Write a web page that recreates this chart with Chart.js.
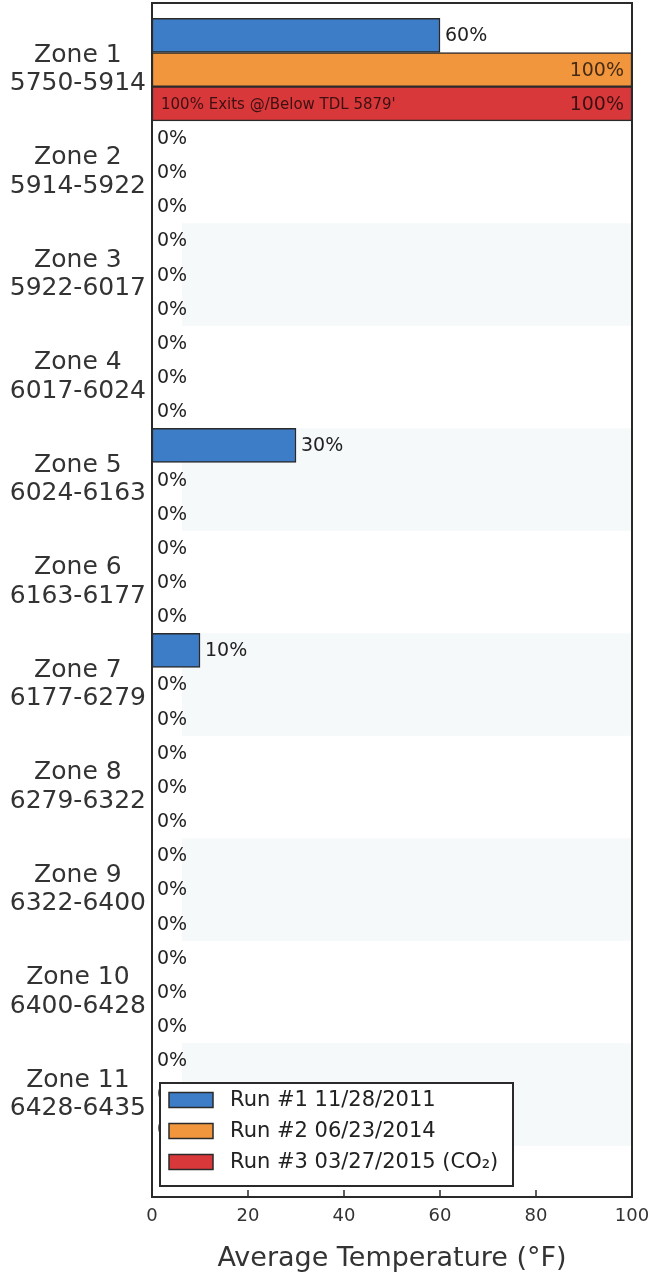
<!DOCTYPE html>
<html><head><meta charset="utf-8">
<script src="https://cdn.jsdelivr.net/npm/chart.js@4/dist/chart.umd.min.js"></script>
<style>html,body{margin:0;padding:0;background:#fff}#c{display:block}</style>
</head><body>
<canvas id="c" width="670" height="1272"></canvas>
<script>
const zoneNames = ['Zone 1','Zone 2','Zone 3','Zone 4','Zone 5','Zone 6','Zone 7','Zone 8','Zone 9','Zone 10','Zone 11'];
const zoneDepths = ['5750-5914','5914-5922','5922-6017','6017-6024','6024-6163','6163-6177','6177-6279','6279-6322','6322-6400','6400-6428','6428-6435'];
const run1 = [60,0,0,0,30,0,10,0,0,0,0];
const run2 = [100,0,0,0,0,0,0,0,0,0,0];
const run3 = [100,0,0,0,0,0,0,0,0,0,0];
const seriesLabels = ['Run #1 11/28/2011','Run #2 06/23/2014','Run #3 03/27/2015 (CO\u2082)'];
const seriesColors = ['#3d7cc7','#f1963d','#d9383b'];
const xTickValues = [0,20,40,60,80,100];
const xTitle = 'Average Temperature (\u00b0F)';
const noteText = "100% Exits @/Below TDL 5879'";
const noteSeries = 2, noteZone = 0;

const FONT = "'DejaVu Sans', sans-serif";
const INK = '#2a2a2a';

const toPoints = arr => arr.map((v, i) => ({x: v, y: i}));

const bandsPlugin = {
  id: 'bands',
  beforeDatasetsDraw(chart) {
    const {ctx, chartArea: a, scales: {y}} = chart;
    ctx.save();
    ctx.fillStyle = '#f5f9fa';
    for (let i = 2; i < zoneNames.length; i += 2) {
      const t = y.getPixelForValue(i - 0.5), b = y.getPixelForValue(i + 0.5);
      ctx.fillRect(a.left + 30, Math.min(t, b), a.right - a.left - 30, Math.abs(b - t));
    }
    ctx.restore();
  }
};

const labelsPlugin = {
  id: 'barLabels',
  afterDatasetsDraw(chart) {
    const {ctx} = chart;
    ctx.save();
    ctx.textBaseline = 'middle';
    chart.data.datasets.forEach((ds, di) => {
      const meta = chart.getDatasetMeta(di);
      meta.data.forEach((el, i) => {
        const v = ds.data[i].x;
        const p = el.getProps(['x', 'y', 'base'], true);
        ctx.font = '19px ' + FONT;
        if (v >= 100) {
          ctx.fillStyle = 'rgba(0,0,0,0.72)';
          ctx.textAlign = 'right';
          ctx.fillText(v + '%', p.x - 8, p.y + 1);
        } else {
          ctx.fillStyle = '#222';
          ctx.textAlign = 'left';
          ctx.fillText(v + '%', p.x + 5, p.y + 1);
        }
        if (di === noteSeries && i === noteZone) {
          ctx.font = '15px ' + FONT;
          ctx.fillStyle = 'rgba(0,0,0,0.72)';
          ctx.textAlign = 'left';
          ctx.fillText(noteText, p.base + 9, p.y + 1);
        }
      });
    });
    ctx.restore();
  }
};

const framePlugin = {
  id: 'frame',
  afterDraw(chart) {
    const {ctx, chartArea: a, scales: {x}} = chart;
    ctx.save();
    ctx.strokeStyle = INK;
    ctx.lineWidth = 2;
    ctx.strokeRect(a.left, a.top, a.right - a.left, a.bottom - a.top);
    ctx.lineWidth = 1.5;
    xTickValues.forEach(v => {
      const px = x.getPixelForValue(v);
      ctx.beginPath();
      ctx.moveTo(px, a.bottom);
      ctx.lineTo(px, a.bottom - 7);
      ctx.stroke();
    });
    // legend
    const lx = a.left + 8, lw = 353, lh = 103, ly = a.bottom - 11 - lh;
    ctx.fillStyle = '#fff';
    ctx.fillRect(lx, ly, lw, lh);
    ctx.lineWidth = 2;
    ctx.strokeRect(lx, ly, lw, lh);
    ctx.font = '21px ' + FONT;
    ctx.textBaseline = 'middle';
    ctx.textAlign = 'left';
    chart.data.datasets.forEach((ds, k) => {
      const cy = ly + 17 + 31 * k;
      ctx.fillStyle = ds.backgroundColor;
      ctx.fillRect(lx + 9, cy - 7.5, 44, 15);
      ctx.lineWidth = 1.5;
      ctx.strokeRect(lx + 9, cy - 7.5, 44, 15);
      ctx.fillStyle = '#222';
      ctx.fillText(ds.label, lx + 70, cy + 1);
    });
    ctx.restore();
  }
};

new Chart(document.getElementById('c'), {
  type: 'bar',
  data: {
    datasets: [run1, run2, run3].map((arr, k) => ({
      label: seriesLabels[k],
      data: toPoints(arr),
      backgroundColor: seriesColors[k],
      borderColor: INK,
      borderWidth: c => (c.raw && c.raw.x === 0 ? 0 : 1.5),
      borderSkipped: false,
      categoryPercentage: 1,
      barPercentage: 1
    }))
  },
  options: {
    indexAxis: 'y',
    responsive: false,
    animation: false,
    devicePixelRatio: 1,
    layout: {padding: {top: 3, right: 38, left: 0, bottom: 0}},
    plugins: {legend: {display: false}, tooltip: {enabled: false}},
    scales: {
      x: {
        type: 'linear', min: 0, max: 100,
        afterBuildTicks: s => { s.ticks = xTickValues.map(v => ({value: v})); },
        afterFit: s => { s.height = 75; s.paddingLeft = 0; s.paddingRight = 0; },
        grid: {display: false, drawTicks: false},
        border: {display: false},
        ticks: {padding: 9, color: '#333', font: {family: FONT, size: 18}},
        title: {display: true, text: xTitle, color: '#333', padding: 0,
                font: {family: FONT, size: 27, lineHeight: 1.0}}
      },
      y: {
        type: 'linear', reverse: true, min: -0.65, max: 11.0, offset: false,
        afterBuildTicks: s => { s.ticks = zoneNames.map((_, i) => ({value: i})); },
        afterFit: s => { s.width = 152; s.paddingTop = 0; s.paddingBottom = 0; },
        grid: {display: false, drawTicks: false, offset: false},
        border: {display: false},
        ticks: {
          autoSkip: false, crossAlign: 'center', padding: 6, color: '#333',
          font: {family: FONT, size: 25, lineHeight: 1.15},
          callback: v => [zoneNames[v], zoneDepths[v]]
        }
      }
    }
  },
  plugins: [bandsPlugin, labelsPlugin, framePlugin]
});
</script>
</body></html>
